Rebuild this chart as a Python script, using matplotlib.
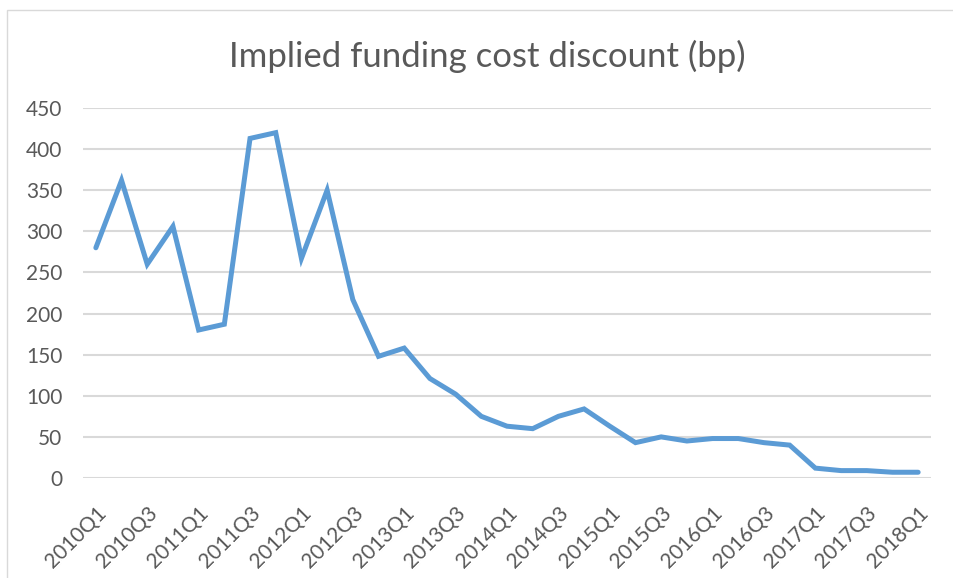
import matplotlib
matplotlib.use("Agg")
import matplotlib.pyplot as plt
from matplotlib.patches import Rectangle

# quarters 2010Q1 .. 2018Q1
quarters = [f"{y}Q{q}" for y in range(2010, 2019) for q in range(1, 5)][:33]
# implied funding cost discount, basis points
discount_bp = [280, 362, 260, 306, 180, 187, 413, 420, 267, 350,
               217, 148, 158, 121, 102, 75, 63, 60, 75, 84,
               63, 43, 50, 45, 48, 48, 43, 40, 12, 9,
               9, 7, 7]
y_ticks = [0, 50, 100, 150, 200, 250, 300, 350, 400, 450]

txt_col = "#595959"
grid_col = "#D9D9D9"
line_col = "#5B9BD5"
W, H = 954, 578

plt.rcParams['font.family'] = ['Lato', 'DejaVu Sans']

fig = plt.figure(figsize=(W / 100, H / 100), dpi=100)
# chart border
fig.patches.append(Rectangle((7 / W, -0.05), 1.1, 1 - 10 / H + 0.05,
                             transform=fig.transFigure, fill=False,
                             edgecolor=grid_col, linewidth=1))

ax = fig.add_axes([83 / W, 1 - 478 / H, 848 / W, 370 / H])
x = list(range(len(quarters)))
ax.plot(x, discount_bp, color=line_col, linewidth=3.6,
        solid_joinstyle='miter', solid_capstyle='round', clip_on=False, zorder=3)

ax.set_xlim(-0.5, len(quarters) - 0.5)
ax.set_ylim(0, 450)
ax.set_yticks(y_ticks)
ax.yaxis.grid(True, color=grid_col, linewidth=1.5)
ax.set_axisbelow(True)
for s in ax.spines.values():
    s.set_visible(False)
ax.tick_params(axis='both', length=0, labelcolor=txt_col, labelsize=15)
ax.tick_params(axis='y', pad=15)
ax.set_xticks(x[::2])
ax.set_xticklabels(quarters[::2], rotation=45, ha='right', va='top',
                   rotation_mode='anchor')
ax.tick_params(axis='x', pad=18)

fig.text(487 / W, 1 - 56 / H, "Implied funding cost discount (bp)",
         ha='center', va='center', color=txt_col, fontsize=25)

fig.savefig("out.png", dpi=100)
